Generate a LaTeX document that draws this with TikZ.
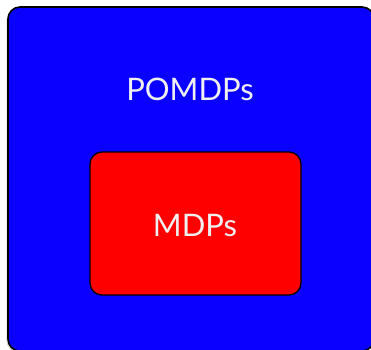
\documentclass[tikz,border=0pt]{standalone}
\usepackage{fontspec}
\setmainfont{Lato}
\usetikzlibrary{shadows}
\begin{document}
\begin{tikzpicture}[x=1pt,y=1pt,
  outerbox/.style={draw=black,line width=1.6pt,fill={rgb,255:red,10;green,0;blue,255},rounded corners=12pt,drop shadow={shadow xshift=-1.5pt,shadow yshift=-1.5pt,opacity=0.4}},
  innerbox/.style={draw=black,line width=1.3pt,fill={rgb,255:red,255;green,0;blue,0},rounded corners=12pt},
  lbl/.style={text={rgb,255:red,240;green,240;blue,240},font=\fontsize{31}{36}\selectfont,inner sep=0pt}]
\useasboundingbox (0,0) rectangle (371,349);
\draw[outerbox] (8,-2) rectangle (374,342);
\draw[innerbox] (90,54) rectangle (301,197);
\node[lbl] (pomdp) at (190,260) {POMDPs};
\node[lbl] (mdp) at (195,123.5) {MDPs};
\end{tikzpicture}
\end{document}
